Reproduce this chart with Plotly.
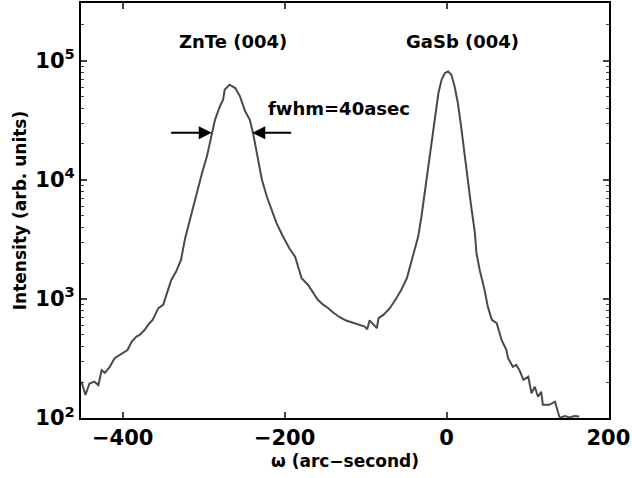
import numpy as np
import plotly.graph_objects as go

omega = [-451, -446, -441, -435, -430, -426, -422, -416, -410, -404, -400, -394, -389, -383, -379,
         -373, -367, -363, -356, -350, -346, -340, -334, -328, -323, -317, -313, -307, -302, -296,
         -290, -286, -280, -276, -274, -268, -261, -255, -249, -243, -239, -235, -232, -228, -222,
         -216, -210, -202, -194, -187, -183, -179, -171, -165, -159, -152, -146, -140, -132, -124,
         -115, -107, -101, -98, -95, -86, -84, -78, -70, -62, -56, -49, -45, -41, -35,
         -31, -27, -23, -18, -14, -10, -6, -2, 2, 6, 10, 14, 18, 22, 26,
         30, 35, 37, 41, 47, 51, 56, 62, 68, 74, 76, 82, 86, 90, 95,
         101, 105, 109, 113, 117, 119, 127, 134, 138, 140, 146, 152, 158, 164]
intensity = [202, 156, 195, 202, 189, 252, 239, 269, 318, 337, 350, 372, 437, 482, 498,
             548, 625, 667, 836, 891, 1082, 1445, 1698, 2128, 3200, 4610, 5970, 8790, 11400, 15700,
             24700, 31900, 41300, 47000, 57000, 63000, 59000, 50000, 38000, 31900, 24700, 18000, 14000, 10000, 7250,
             5600, 4330, 3340, 2650, 2260, 1870, 1490, 1310, 1120, 982, 891, 836, 768, 702, 658,
             632, 603, 585, 556, 661, 568, 689, 734, 836, 1014, 1190, 1490, 1870, 2260, 3340,
             4900, 7730, 12900, 21700, 36300, 53600, 69500, 78800, 81300, 76300, 60800, 44200, 28100, 16700, 9500,
             6310, 3600, 2420, 1750, 1190, 861, 667, 625, 452, 372, 318, 269, 279, 253, 209,
             222, 161, 183, 151, 166, 129, 129, 137, 110, 100, 104, 101, 104, 103]

x_ticks = [-400, -200, 0, 200]
y_ticks = [100, 1000, 10000, 100000]
y_tick_text = ["10<sup>2</sup>", "10<sup>3</sup>", "10<sup>4</sup>", "10<sup>5</sup>"]
y_minor = [m * 10 ** e for e in range(2, 6) for m in range(2, 10)]

peak_labels = ["ZnTe (004)", "GaSb (004)"]
peak_label_x = [-264, 20]
fwhm_text = "fwhm=40asec"

FONT = "DejaVu Sans"

fig = go.Figure()
fig.add_trace(go.Scatter(x=omega, y=intensity, mode="lines",
                         line=dict(color="#4a4a4a", width=2), showlegend=False))

for lab, xv in zip(peak_labels, peak_label_x):
    fig.add_annotation(x=xv, y=np.log10(1.45e5), text=lab, showarrow=False,
                       font=dict(family=FONT, size=18, color="black", weight="bold"))
fig.add_annotation(x=-133, y=np.log10(4.0e4), text=fwhm_text, showarrow=False,
                   font=dict(family=FONT, size=18, color="black", weight="bold"))

arrow_y = np.log10(2.48e4)
for tip, tail in [(-290, -342), (-240, -190)]:
    fig.add_annotation(x=tip, y=arrow_y, ax=tail, ay=arrow_y, axref="x", ayref="y",
                       xref="x", yref="y", text="", showarrow=True, arrowhead=2,
                       arrowsize=1.3, arrowwidth=2, arrowcolor="black")

fig.update_layout(
    width=632, height=478,
    margin=dict(l=81, r=23, t=3, b=60, autoexpand=False),
    paper_bgcolor="white", plot_bgcolor="white",
    font=dict(family=FONT, color="black"),
)
fig.update_xaxes(
    range=[-451.5, 200.7], tickvals=x_ticks, ticks="inside", ticklen=6, tickwidth=2,
    showline=True, linewidth=2, linecolor="black", mirror="allticks", showgrid=False,
    zeroline=False, automargin=False, tickfont=dict(family=FONT, size=21, weight="bold"),
    title=dict(text="<b>ω (arc−second)</b>", font=dict(family=FONT, size=17), standoff=6),
)
fig.update_yaxes(
    type="log", range=[2, 5.485], tickvals=y_ticks, ticktext=y_tick_text,
    ticks="inside", ticklen=6, tickwidth=2,
    minor=dict(tickvals=y_minor, ticks="inside", ticklen=3, tickwidth=1, showgrid=False),
    showline=True, linewidth=2, linecolor="black", mirror="allticks", showgrid=False,
    automargin=False, tickfont=dict(family=FONT, size=21, weight="bold"),
    title=dict(text="<b>Intensity (arb. units)</b>", font=dict(family=FONT, size=17), standoff=4),
)

fig.write_html("out.html", config={"displayModeBar": False},
               post_script="document.body.style.margin='0';document.body.style.padding='0';")
